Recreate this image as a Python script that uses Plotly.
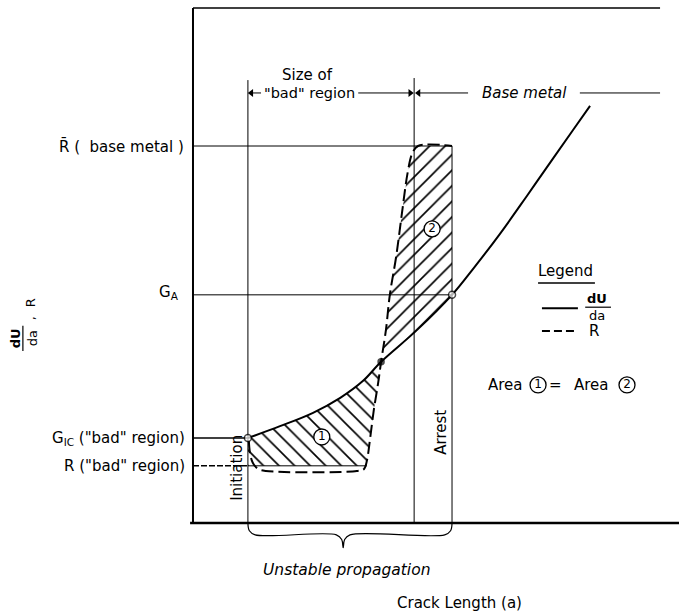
import plotly.graph_objects as go

# Crack-length positions and energy-rate levels (schematic units)
a_init = 11.3        # initiation
a_bad_end = 45.5     # end of the "bad" region
a_arrest = 53.3      # arrest
R_base = 73.2        # R-bar, base metal
G_A = 44.3           # G at arrest
G_IC = 16.5          # G_IC of the "bad" region
R_bad = 11.1         # R of the "bad" region
frame_top = 100.0

# Driving force dU/da versus crack length a
dUda_a = [11.3, 17.9, 24.7, 30.3, 35.0, 38.7, 45.9, 53.3, 57.6, 63.2, 68.7, 74.1, 78.2, 81.7]
dUda_v = [16.5, 18.8, 21.4, 24.3, 27.6, 31.3, 37.3, 44.3, 49.3, 56.2, 63.5, 70.8, 76.3, 81.0]

# Crack resistance R versus crack length a
R_a = [11.5, 11.7, 12.3, 13.4, 15.0, 33.7, 35.2, 35.8, 36.4, 37.2, 38.1, 38.7,
       39.7, 40.5, 41.8, 43.0, 44.2, 45.1, 46.3, 53.3]
R_v = [15.9, 13.8, 11.7, 10.5, 10.1, 10.1, 10.5, 12.2, 16.1, 21.9, 27.2, 31.3,
       37.5, 44.3, 51.7, 60.2, 68.2, 71.7, 73.2, 73.2]

X_RANGE = [-39.71, 100.0]
Y_RANGE = [-17.09, 101.55]
FONT = "DejaVu Sans"
INK = "black"
FS = 15

fig = go.Figure()


def line(xs, ys, width=1.0, dash="solid", shape="linear"):
    fig.add_trace(go.Scatter(x=xs, y=ys, mode="lines", hoverinfo="skip",
                             line=dict(color=INK, width=width, dash=dash, shape=shape)))


def text(x, y, s, size=FS, angle=0, xanchor="center", italic=False):
    fig.add_annotation(x=x, y=y, text=f"<i>{s}</i>" if italic else s, showarrow=False,
                       textangle=angle, xanchor=xanchor, yanchor="middle",
                       font=dict(family=FONT, size=size, color=INK))


def dim_arrow(x_tail, x_head, y):
    """Dimension line from x_tail to x_head with a head at x_head."""
    line([x_tail, x_head], [y, y])
    sym = "triangle-left" if x_head < x_tail else "triangle-right"
    fig.add_trace(go.Scatter(x=[x_head], y=[y], mode="markers", hoverinfo="skip",
                             marker=dict(symbol=sym, size=7, color=INK)))


# Area 1: between dU/da (above) and R (below), before the crossing
i_dx = dUda_a.index(38.7)
i_rx = R_a.index(38.7)
area1_a = dUda_a[:i_dx + 1] + R_a[i_rx - 1:6:-1] + [R_a[7], a_init]
area1_v = dUda_v[:i_dx + 1] + R_v[i_rx - 1:6:-1] + [R_bad, R_bad]
# Area 2: between R (above) and dU/da (below), after the crossing up to arrest
area2_a = R_a[i_rx:-1] + [a_arrest] + dUda_a[i_dx + 2:i_dx - 1:-1]
area2_v = R_v[i_rx:-1] + [R_base] + dUda_v[i_dx + 2:i_dx - 1:-1]

for xs, ys, pat in [(area1_a, area1_v, "\\"), (area2_a, area2_v, "/")]:
    fig.add_trace(go.Scatter(x=xs, y=ys, mode="lines", fill="toself",
                             fillcolor="rgba(0,0,0,0)", line=dict(width=0),
                             hoverinfo="skip",
                             fillpattern=dict(shape=pat, size=11, solidity=0.15,
                                              fgcolor=INK, fgopacity=1,
                                              bgcolor="rgba(0,0,0,0)")))

# Frame
line([0, 0], [0, frame_top], width=2)
line([-0.6, X_RANGE[1]], [0, 0], width=2.5)
line([0, 96.1], [frame_top, frame_top], width=1.5)

# Reference levels
line([0, a_arrest], [R_base, R_base])
line([0, a_arrest], [G_A, G_A])
line([0, a_init], [G_IC, G_IC], width=1.5)
line([0, a_init], [R_bad, R_bad], width=1.5, dash="6px,2px")
line([a_init, R_a[7]], [R_bad, R_bad])

# Vertical markers
line([a_init, a_init], [0, 86.0])
line([a_bad_end, a_bad_end], [0, 86.4])
line([a_arrest, a_arrest], [0, R_base])

# Curves
line(dUda_a, dUda_v, width=2, shape="spline")
line(R_a, R_v, width=2, dash="12px,5px", shape="spline")

# Key points
fig.add_trace(go.Scatter(x=[dUda_a[0], dUda_a[i_dx], a_arrest], y=[dUda_v[0], dUda_v[i_dx], G_A],
                         mode="markers", hoverinfo="skip",
                         marker=dict(size=[7, 6, 7], color=["white", INK, "white"],
                                     line=dict(color=INK, width=1.5))))

# Circled area labels
circ_x = [26.5, 49.2, 71.0, 89.3]
circ_y = [16.7, 57.1, 26.8, 26.8]
circ_t = ["1", "2", "1", "2"]
fig.add_trace(go.Scatter(x=circ_x, y=circ_y, mode="markers+text", text=circ_t,
                         textposition="middle center", hoverinfo="skip",
                         textfont=dict(family=FONT, size=12, color=INK),
                         marker=dict(symbol="circle", size=16, color="white",
                                     line=dict(color=INK, width=1.3))))

# Dimension arrows above the plot
dim_y = 83.5
dim_arrow(14.0, a_init + 0.7, dim_y)
dim_arrow(34.0, a_bad_end - 0.8, dim_y)
dim_arrow(56.6, a_bad_end + 0.9, dim_y)
line([79.6, 96.1], [dim_y, dim_y])
text(23.5, 86.9, "Size of")
text(23.9, dim_y, "\"bad\" region", size=14.5)
text(68.2, dim_y, "Base metal", italic=True)

# Bottom brace: unstable propagation between initiation and arrest
brace_a = [a_init, 11.6, 12.8, 29.5, 30.6, 30.9, 31.2, 32.3, 51.8, 53.0, a_arrest]
brace_v = [0, -1.5, -2.3, -2.3, -3.2, -4.8, -3.2, -2.3, -2.3, -1.5, 0]
line(brace_a, brace_v, width=1.2, shape="spline")
text(31.7, -9.1, "Unstable propagation", size=15.5, italic=True)
text(54.9, -15.6, "Crack Length (a)")

# Level labels on the left
text(-1.4, R_base, "R\u0304 (  base metal )", xanchor="right")
text(-2.5, G_A + 0.5, "G<sub>A</sub>", xanchor="right")
text(-1.2, G_IC, "G<sub>IC</sub> (\"bad\" region)", xanchor="right")
text(-1.2, R_bad, "R (\"bad\" region)", xanchor="right")
text(9.05, 10.7, "Initiation", angle=-90)
text(51.0, 17.7, "Arrest", angle=-90)

# Vertical axis title: dU/da , R
text(-36.6, 35.9, "<b>dU</b>", size=13, angle=-90)
text(-33.1, 35.9, "da", size=13, angle=-90)
line([-35.0, -35.0], [33.4, 38.3], width=1.2)
text(-33.5, 39.8, ",", size=13, angle=-90)
text(-33.5, 42.7, "R", size=13, angle=-90)

# Legend block
text(76.7, 48.9, "Legend")
line([71.0, 82.7], [46.6, 46.6], width=1.3)
line([71.8, 79.2], [41.7, 41.7], width=2)
text(83.1, 43.6, "<b>dU</b>", size=13)
line([80.7, 86.0], [41.9, 41.9], width=1.2)
text(83.1, 40.2, "da", size=13)
line([71.8, 79.2], [37.3, 37.3], width=2, dash="8px,4px")
text(82.5, 37.3, "R")
text(64.3, 26.8, "Area")
text(74.6, 26.8, "=")
text(81.9, 26.8, "Area")

fig.update_layout(
    width=679, height=611, margin=dict(l=0, r=0, t=0, b=0),
    paper_bgcolor="white", plot_bgcolor="white", showlegend=False,
    xaxis=dict(range=X_RANGE, visible=False, fixedrange=True),
    yaxis=dict(range=Y_RANGE, visible=False, fixedrange=True),
)

fig.write_html("out.html")
